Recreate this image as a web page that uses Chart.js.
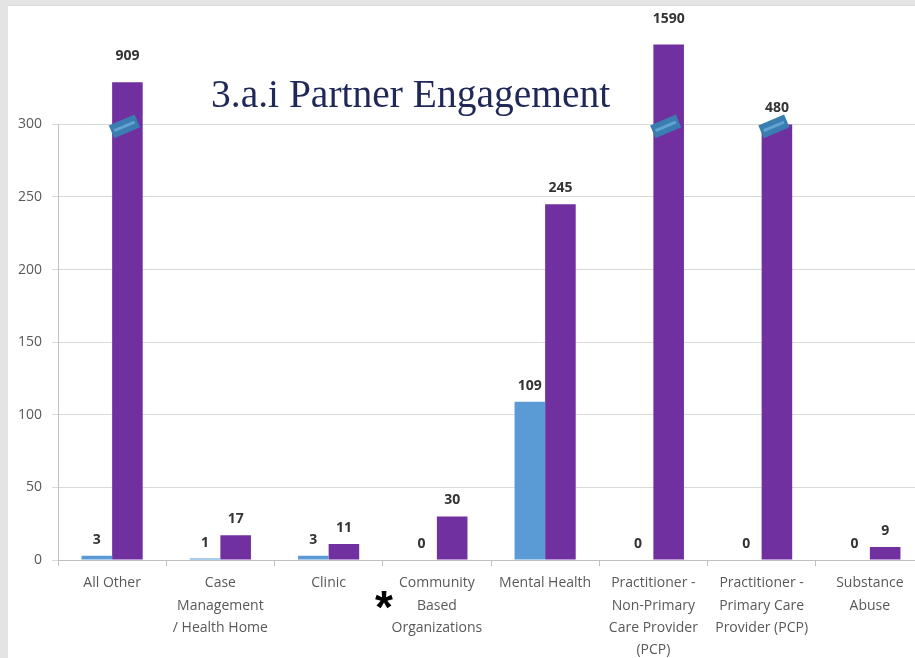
<!DOCTYPE html>
<html lang="en">
<head>
    <meta charset="UTF-8">
    <title>3.a.i Partner Engagement</title>
    <script src="https://cdn.jsdelivr.net/npm/chart.js"></script>
    <style>
        html, body { margin: 0; padding: 0; overflow: hidden; }
        body { width: 915px; height: 658px; background: #e4e4e4; position: relative; }
        .panel { position: absolute; left: 8px; top: 5px; right: 0; bottom: 0; background: #fff;
                 border-top: 1px solid #dcdcdc; }
        .wrap { position: absolute; left: 0; top: 0; width: 924px; height: 658px; }
    </style>
</head>
<body>
    <div class="panel"></div>
    <div class="wrap"><canvas id="chart"></canvas></div>

    <script>
        const categories = [
            'All Other',
            ['Case', 'Management', '/ Health Home'],
            'Clinic',
            ['Community', 'Based', 'Organizations'],
            'Mental Health',
            ['Practitioner -', 'Non-Primary', 'Care Provider', '(PCP)'],
            ['Practitioner -', 'Primary Care', 'Provider (PCP)'],
            ['Substance', 'Abuse']
        ];
        const blueValues = [3, 1, 3, 0, 109, 0, 0, 0];
        // real counts shown in the labels
        const purpleValues = [909, 17, 11, 30, 245, 1590, 480, 9];
        // heights the bars are drawn at on the broken axis
        const purpleDrawn = [329, 17, 11, 30, 245, 355, 300, 9];
        const yTicks = [0, 50, 100, 150, 200, 250, 300];
        const axisBreak = 300;

        const labelFont = '"Open Sans", sans-serif';

        // value labels, break marks, title, asterisk
        const extras = {
            id: 'extras',
            afterDatasetsDraw(chart) {
                const ctx = chart.ctx;
                const y = chart.scales.y;
                const area = chart.chartArea;

                // y axis line only up to the break
                ctx.save();
                ctx.strokeStyle = '#bfbfbf';
                ctx.lineWidth = 1;
                ctx.beginPath();
                ctx.moveTo(area.left + 0.5, y.getPixelForValue(axisBreak));
                ctx.lineTo(area.left + 0.5, y.getPixelForValue(0));
                ctx.stroke();

                // break marks
                chart.getDatasetMeta(1).data.forEach((bar, i) => {
                    if (purpleValues[i] <= axisBreak) return;
                    ctx.save();
                    ctx.translate(bar.x - 3, y.getPixelForValue(axisBreak) + 2);
                    ctx.rotate(-23 * Math.PI / 180);
                    ctx.fillStyle = '#3a7db0';
                    ctx.fillRect(-14, -7, 28, 14);
                    ctx.strokeStyle = '#62a3d2';
                    ctx.lineWidth = 3;
                    ctx.beginPath();
                    ctx.moveTo(-11, 0);
                    ctx.lineTo(11, 0);
                    ctx.stroke();
                    ctx.restore();
                });

                // value labels
                ctx.font = 'bold 14px ' + labelFont;
                ctx.fillStyle = '#333333';
                ctx.textAlign = 'center';
                ctx.textBaseline = 'middle';
                chart.getDatasetMeta(0).data.forEach((bar, i) => {
                    ctx.fillText(String(blueValues[i]), bar.x, bar.y - 16);
                });
                chart.getDatasetMeta(1).data.forEach((bar, i) => {
                    const off = purpleDrawn[i] > axisBreak ? 26 : 16;
                    ctx.fillText(String(purpleValues[i]), bar.x, bar.y - off);
                });

                // title
                ctx.font = '39.5px "Liberation Serif", serif';
                ctx.fillStyle = '#1f2857';
                ctx.textAlign = 'left';
                ctx.textBaseline = 'alphabetic';
                ctx.fillText('3.a.i Partner Engagement', 211, 107);

                // asterisk next to Community Based Organizations
                ctx.font = 'bold 46px "Liberation Sans", sans-serif';
                ctx.fillStyle = '#000';
                ctx.textAlign = 'center';
                const m = ctx.measureText('*');
                const mid = (m.actualBoundingBoxAscent - m.actualBoundingBoxDescent) / 2;
                ctx.fillText('*', 384, 600 + mid);
                ctx.restore();
            }
        };

        new Chart(document.getElementById('chart'), {
            type: 'bar',
            data: {
                labels: categories,
                datasets: [
                    { label: 'Series 1', data: blueValues, backgroundColor: '#5b9bd5' },
                    { label: 'Series 2', data: purpleDrawn, backgroundColor: '#7030a0' }
                ]
            },
            options: {
                responsive: true,
                maintainAspectRatio: false,
                animation: false,
                layout: { padding: 0 },
                datasets: { bar: { categoryPercentage: 0.565, barPercentage: 1 } },
                plugins: {
                    legend: { display: false },
                    tooltip: { enabled: false }
                },
                scales: {
                    x: {
                        grid: { offset: true, drawOnChartArea: false, drawTicks: true, tickLength: 6, color: '#bfbfbf' },
                        border: { display: true, color: '#bfbfbf' },
                        ticks: {
                            color: '#595959', font: { family: labelFont, size: 14, lineHeight: 1.6 },
                            maxRotation: 0, autoSkip: false, padding: 6
                        },
                        afterFit(s) { s.height = 98; }
                    },
                    y: {
                        min: 0,
                        max: 373,
                        afterBuildTicks(s) { s.ticks = yTicks.map(v => ({ value: v })); },
                        grid: { color: '#d9d9d9', tickLength: 6 },
                        border: { display: false },
                        ticks: { color: '#595959', font: { family: labelFont, size: 14 }, padding: 10 },
                        afterFit(s) { s.width = 58; }
                    }
                }
            },
            plugins: [extras]
        });
    </script>
</body>
</html>
